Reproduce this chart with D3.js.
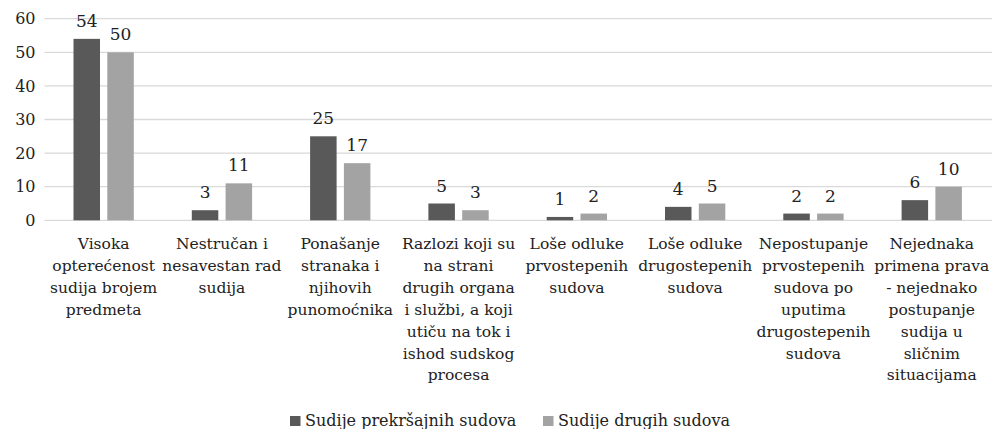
<!DOCTYPE html>
<html>
<head>
<meta charset="utf-8">
<script src="https://cdn.jsdelivr.net/npm/d3@7"></script>
<style>
  html, body { margin: 0; padding: 0; background: #fff; }
  svg text { font-family: "DejaVu Serif", "Liberation Serif", serif; fill: #222; }
</style>
</head>
<body>
<svg id="chart" width="992" height="429"></svg>
<script>
// Category labels, broken into the lines they are drawn on
const categories = [
  ["Visoka", "opterećenost", "sudija brojem", "predmeta"],
  ["Nestručan i", "nesavestan rad", "sudija"],
  ["Ponašanje", "stranaka i", "njihovih", "punomoćnika"],
  ["Razlozi koji su", "na strani", "drugih organa", "i službi, a koji", "utiču na tok i", "ishod sudskog", "procesa"],
  ["Loše odluke", "prvostepenih", "sudova"],
  ["Loše odluke", "drugostepenih", "sudova"],
  ["Nepostupanje", "prvostepenih", "sudova po", "uputima", "drugostepenih", "sudova"],
  ["Nejednaka", "primena prava", "- nejednako", "postupanje", "sudija u", "sličnim", "situacijama"]
];
const seriesNames = ["Sudije prekršajnih sudova", "Sudije drugih sudova"];
const prekrsajni = [54, 3, 25, 5, 1, 4, 2, 6];
const drugi = [50, 11, 17, 3, 2, 5, 2, 10];
const yTicks = [0, 10, 20, 30, 40, 50, 60];

const colors = ["#595959", "#a3a3a3"];
const series = [prekrsajni, drugi];

const svg = d3.select("#chart");
const plotLeft = 44.5, plotRight = 992, plotTop = 18.7, plotBottom = 220.3;

const x0 = d3.scaleBand().domain(d3.range(categories.length)).range([plotLeft, plotLeft + 8 * 118.3]);
const bandW = x0.bandwidth();
const barW = 26.5;
const barGap = 7.3;

const y = d3.scaleLinear().domain([0, 60]).range([plotBottom, plotTop]);

// Horizontal gridlines
svg.append("g").selectAll("line").data(yTicks).join("line")
  .attr("x1", plotLeft).attr("x2", plotRight)
  .attr("y1", d => y(d)).attr("y2", d => y(d))
  .attr("stroke", "#d9d9d9").attr("stroke-width", 1.3);

// Y-axis tick labels
const yAxis = d3.axisLeft(y).tickValues(yTicks).tickSize(0).tickPadding(9);
const gy = svg.append("g").attr("transform", `translate(${plotLeft},0)`).call(yAxis);
gy.select(".domain").remove();
gy.selectAll("text").attr("font-size", 16).attr("font-family", "DejaVu Serif").attr("fill", "#222");

// Bars and value labels
series.forEach((vals, s) => {
  const xOff = c => x0(c) + bandW / 2 + (s === 0 ? -barGap / 2 - barW : barGap / 2);
  svg.append("g").selectAll("rect").data(vals).join("rect")
    .attr("x", (d, i) => xOff(i))
    .attr("y", d => y(d))
    .attr("width", barW)
    .attr("height", d => y(0) - y(d))
    .attr("fill", colors[s]);
  svg.append("g").selectAll("text").data(vals).join("text")
    .attr("x", (d, i) => xOff(i) + barW / 2)
    .attr("y", d => y(d) - 12)
    .attr("text-anchor", "middle")
    .attr("font-size", 17)
    .text(d => d);
});

// Category labels under the axis
const catG = svg.append("g");
categories.forEach((lines, i) => {
  const cx = x0(i) + bandW / 2;
  const t = catG.append("text")
    .attr("x", cx)
    .attr("y", 249)
    .attr("text-anchor", "middle")
    .attr("font-size", 15.5);
  lines.forEach((ln, k) => {
    t.append("tspan").attr("x", cx).attr("dy", k === 0 ? 0 : 21.9).text(ln);
  });
});

// Legend
const legendX = [290, 543];
seriesNames.forEach((name, s) => {
  const g = svg.append("g").attr("transform", `translate(${legendX[s]},426)`);
  g.append("rect").attr("x", 0).attr("y", -10).attr("width", 10.5).attr("height", 10).attr("fill", colors[s]);
  g.append("text").attr("x", 15).attr("y", 0).attr("font-size", 16).text(name);
});
</script>
</body>
</html>
